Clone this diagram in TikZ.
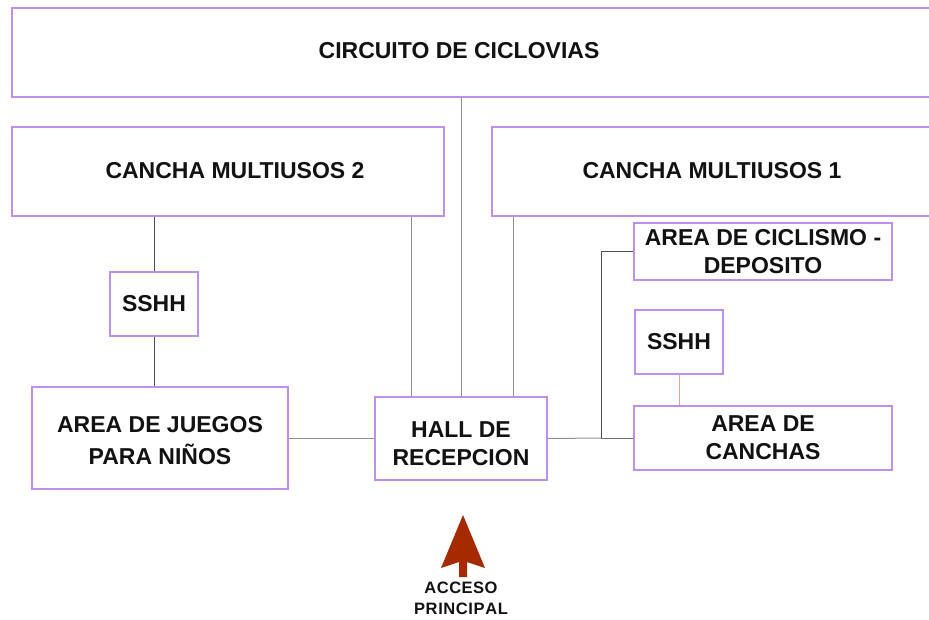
\documentclass[tikz,border=0pt]{standalone}
\usepackage{fontspec}
\setmainfont{Liberation Sans}
\definecolor{boxline}{HTML}{BF8FF0}
\definecolor{darkln}{HTML}{505050}
\definecolor{lightln}{HTML}{909090}
\definecolor{midln}{HTML}{707070}
\definecolor{salmon}{HTML}{E0A890}
\definecolor{arrowred}{RGB}{165,42,0}
\tikzset{
  box/.style={draw=boxline, line width=1.2pt, fill=white, inner sep=0pt,
    align=center, font=\fontsize{23}{28}\selectfont\bfseries, text=black!93},
  conn/.style={line width=1pt},
  small/.style={font=\fontsize{16.5}{21}\selectfont\bfseries, text=black!93, align=center, inner sep=0pt}
}
\begin{document}
\begin{tikzpicture}[x=1pt,y=-1pt]
\useasboundingbox (0,0) rectangle (929,619);
\clip (0,0) rectangle (929,619);
% boxes
\node[box, minimum width=928, minimum height=89,
  label={[font=\fontsize{23}{28}\selectfont\bfseries, text=black!93, xshift=-17pt, yshift=2pt]center:CIRCUITO DE CICLOVIAS}] (top) at (476,52.5) {};
\node[box, minimum width=432, minimum height=89] (c2) at (228,171.5) {\raisebox{3pt}{\hspace*{14pt}CANCHA MULTIUSOS 2}};
\node[box, minimum width=440, minimum height=89] (c1) at (712,171.5) {\raisebox{3pt}{CANCHA MULTIUSOS 1}};
\node[box, minimum width=88, minimum height=64] (sshhL) at (154,304) {SSHH};
\node[box, minimum width=256, minimum height=102, font=\fontsize{23}{32}\selectfont\bfseries] (juegos) at (160,438) {\rule{0pt}{22pt}AREA DE JUEGOS\\PARA NIÑOS};
\node[box, minimum width=172, minimum height=83] (hall) at (461,438.5) {\rule{0pt}{26pt}HALL DE\\RECEPCION};
\node[box, minimum width=258, minimum height=57] (cicl) at (763,251.5) {AREA DE CICLISMO -\\DEPOSITO};
\node[box, minimum width=88, minimum height=64] (sshhR) at (679,342) {SSHH};
\node[box, minimum width=258, minimum height=64] (canchas) at (763,438) {AREA DE\\CANCHAS};
\coordinate (j) at (601,438);
% connectors
\draw[conn, lightln] (hall.north) -- (hall.north |- top.south);
\draw[conn, lightln] ([xshift=-50pt]hall.north) -- ([xshift=-50pt]hall.north |- c2.south);
\draw[conn, lightln] ([xshift=52pt]hall.north) -- ([xshift=52pt]hall.north |- c1.south);
\draw[conn, darkln] (sshhL.north) -- (sshhL.north |- c2.south);
\draw[conn, darkln] (sshhL.south) -- (sshhL.south |- juegos.north);
\draw[conn, lightln] (juegos.east |- hall.west) -- (hall.west);
\draw[conn, lightln] (hall.east) -- (j);
\draw[conn, midln] (j) -- (canchas.west);
\draw[conn, darkln] (j) |- (cicl.west);
\draw[conn, salmon] (sshhR.south) -- (sshhR.south |- canchas.north);
% access arrow
\fill[arrowred] (463,515) -- (485,568) -- (467,562) -- (467,577) -- (459,577) -- (459,562) -- (441,568) -- cycle;
\node[small] (acceso) at (461,598) {A\kern0.5ptC\kern0.5ptC\kern0.5ptE\kern0.5ptS\kern0.5ptO\\P\kern0.6ptR\kern0.6ptI\kern0.6ptN\kern0.6ptC\kern0.6ptI\kern0.6ptP\kern0.6ptA\kern0.6ptL};
\end{tikzpicture}
\end{document}
